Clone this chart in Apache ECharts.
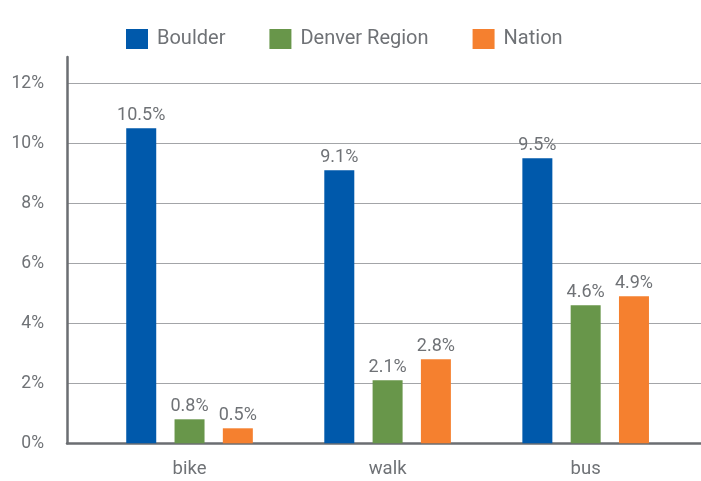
<!DOCTYPE html>
<html>
<head>
<meta charset="utf-8">
<script src="https://cdn.jsdelivr.net/npm/echarts@6/dist/echarts.min.js"></script>
<style>
  html, body { margin: 0; padding: 0; background: #fff; }
  #chart { width: 701px; height: 481px; }
</style>
</head>
<body>
<div id="chart"></div>
<script>
var categories = ['bike', 'walk', 'bus'];
var boulder = [10.5, 9.1, 9.5];
var denver = [0.8, 2.1, 4.6];
var nation = [0.5, 2.8, 4.9];
var seriesNames = ['Boulder', 'Denver Region', 'Nation'];

var FONT = "Roboto, sans-serif";
var TEXT = '#6f7276';
var AXIS = '#6b6e72';
var colors = ['#0059ab', '#68964a', '#f5802f'];

var chart = echarts.init(document.getElementById('chart'));

// label on top of each bar
function barSeries(name, data, color) {
    return {
        name: name,
        type: 'bar',
        xAxisIndex: 1,
        yAxisIndex: 1,
        data: data,
        barWidth: 30,
        barGap: '61%',
        itemStyle: {color: color},
        label: {
            show: true,
            position: 'top',
            distance: 4,
            color: TEXT,
            fontFamily: FONT,
            fontSize: 18,
            formatter: '{c}%'
        }
    };
}

var option = {
    animation: false,
    color: colors,
    legend: {
        data: seriesNames,
        left: 126,
        top: 29,
        padding: 0,
        icon: 'rect',
        itemWidth: 22,
        itemHeight: 20,
        itemGap: 44,
        textStyle: {color: TEXT, fontFamily: FONT, fontSize: 20, padding: [2, 0, 0, 4]}
    },
    grid: [
        // frame with gridlines + y labels
        {left: 67, right: 0, top: 83.3, bottom: 37.7},
        // bars
        {left: 90.5, right: 16.3, top: 83.3, bottom: 37.7},
        // taller y axis line
        {left: 67, right: 0, top: 57, bottom: 37.7}
    ],
    xAxis: [
        {gridIndex: 0, type: 'category', data: categories, show: false},
        {
            gridIndex: 1, type: 'category', data: categories,
            axisLine: {show: false},
            axisTick: {show: false},
            axisLabel: {color: TEXT, fontFamily: FONT, fontSize: 18.5, margin: 17}
        },
        {
            gridIndex: 2, type: 'category', data: categories,
            axisLine: {show: true, lineStyle: {color: AXIS, width: 2.5}},
            axisTick: {show: false},
            axisLabel: {show: false}
        }
    ],
    yAxis: [
        {
            gridIndex: 0, type: 'value', min: 0, max: 12, interval: 2,
            axisLine: {show: false},
            axisTick: {show: false},
            splitLine: {lineStyle: {color: '#a3a5a8', width: 1}},
            axisLabel: {color: TEXT, fontFamily: FONT, fontSize: 17.5, margin: 23, formatter: '{value}%'}
        },
        {gridIndex: 1, type: 'value', min: 0, max: 12, interval: 2, show: false},
        {
            gridIndex: 2, type: 'value', min: 0, max: 1,
            axisLine: {show: true, lineStyle: {color: AXIS, width: 2.5}},
            axisTick: {show: false},
            axisLabel: {show: false},
            splitLine: {show: false}
        }
    ],
    series: [
        barSeries(seriesNames[0], boulder, colors[0]),
        barSeries(seriesNames[1], denver, colors[1]),
        barSeries(seriesNames[2], nation, colors[2])
    ]
};

chart.setOption(option);
</script>
</body>
</html>
